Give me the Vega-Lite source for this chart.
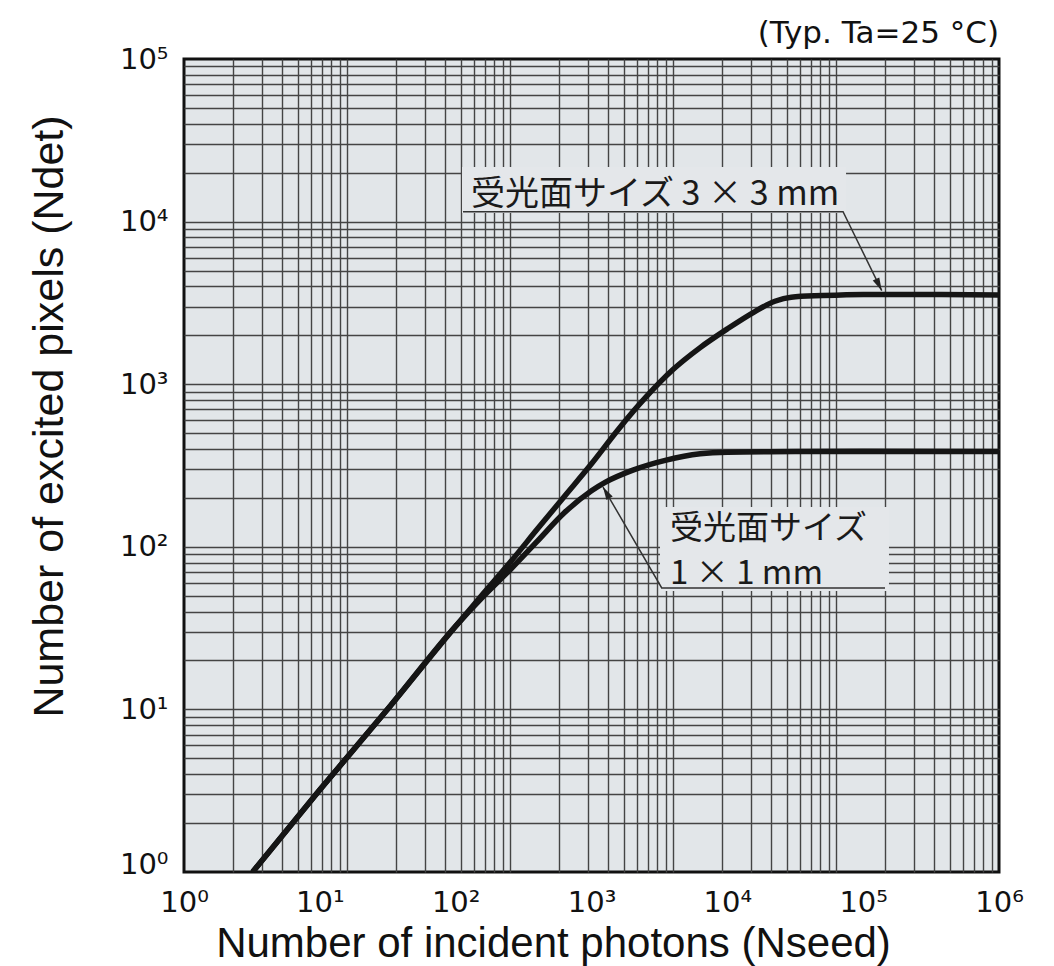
{
  "$schema": "https://vega.github.io/schema/vega-lite/v6.json",
  "width": 815,
  "height": 813,
  "autosize": {"type": "none"},
  "padding": {"left": 184, "top": 59, "right": 55, "bottom": 94},
  "background": "white",
  "view": {"fill": "#e2e6e9", "stroke": "#111111", "strokeWidth": 3},
  "title": {
    "text": "(Typ. Ta=25 °C)",
    "anchor": "end",
    "frame": "group",
    "font": "DejaVu Sans",
    "fontSize": 31,
    "fontWeight": "normal",
    "color": "#111111",
    "offset": -5
  },
  "datasets": {
    "curves": [
      {"series": "3x3", "x": 3.2, "y": 1},
      {"series": "3x3", "x": 10, "y": 3.2},
      {"series": "3x3", "x": 33, "y": 10.5},
      {"series": "3x3", "x": 100, "y": 32.5},
      {"series": "3x3", "x": 158, "y": 51},
      {"series": "3x3", "x": 251, "y": 80},
      {"series": "3x3", "x": 398, "y": 128},
      {"series": "3x3", "x": 631, "y": 204},
      {"series": "3x3", "x": 1000, "y": 324},
      {"series": "3x3", "x": 1585, "y": 531},
      {"series": "3x3", "x": 2512, "y": 832},
      {"series": "3x3", "x": 3981, "y": 1230},
      {"series": "3x3", "x": 6310, "y": 1679},
      {"series": "3x3", "x": 10000, "y": 2188},
      {"series": "3x3", "x": 15850, "y": 2786},
      {"series": "3x3", "x": 22390, "y": 3236},
      {"series": "3x3", "x": 29510, "y": 3428},
      {"series": "3x3", "x": 50120, "y": 3508},
      {"series": "3x3", "x": 100000, "y": 3565},
      {"series": "3x3", "x": 316200, "y": 3565},
      {"series": "3x3", "x": 1000000, "y": 3540},
      {"series": "1x1", "x": 3.2, "y": 1},
      {"series": "1x1", "x": 10, "y": 3.2},
      {"series": "1x1", "x": 33, "y": 10.5},
      {"series": "1x1", "x": 100, "y": 32.5},
      {"series": "1x1", "x": 158, "y": 49},
      {"series": "1x1", "x": 251, "y": 72},
      {"series": "1x1", "x": 398, "y": 108},
      {"series": "1x1", "x": 631, "y": 162},
      {"series": "1x1", "x": 1000, "y": 221},
      {"series": "1x1", "x": 1259, "y": 249},
      {"series": "1x1", "x": 1995, "y": 295},
      {"series": "1x1", "x": 3548, "y": 341},
      {"series": "1x1", "x": 6310, "y": 373},
      {"series": "1x1", "x": 10000, "y": 382},
      {"series": "1x1", "x": 31620, "y": 386},
      {"series": "1x1", "x": 100000, "y": 387},
      {"series": "1x1", "x": 1000000, "y": 385}
    ],
    "boxes": [
      {"id": "3x3", "x1": 111.4, "x2": 74800, "y1": 11290, "y2": 21680},
      {"id": "1x1", "x1": 3194, "x2": 154900, "y1": 53.5, "y2": 176}
    ],
    "leaders": [
      {"id": "3x3", "order": 1, "x": 113.2, "y": 11510},
      {"id": "3x3", "order": 2, "x": 71100, "y": 11510},
      {"id": "3x3", "order": 3, "x": 137000, "y": 3760},
      {"id": "1x1", "order": 1, "x": 1215, "y": 233},
      {"id": "1x1", "order": 2, "x": 3288, "y": 55.8},
      {"id": "1x1", "order": 3, "x": 144800, "y": 55.8}
    ],
    "arrows": [
      {"id": "3x3", "x": 137000, "y": 3760},
      {"id": "1x1", "x": 1215, "y": 233}
    ],
    "labels": [
      {"x": 129.7, "y": 12650, "text": "受光面サイズ 3 × 3 mm", "grp": "3x3"},
      {"x": 3786, "y": 112, "text": "受光面サイズ", "grp": "1x1"},
      {"x": 3786, "y": 59, "text": "1 × 1 mm", "grp": "1x1"}
    ]
  },
  "layer": [
    {
      "data": {"name": "boxes"},
      "mark": {"type": "rect", "fill": "#e4e7ea", "strokeWidth": 0},
      "encoding": {
        "x": {
          "field": "x1", "type": "quantitative",
          "scale": {"type": "log", "domain": [1, 1000000], "nice": false},
          "axis": {
            "orient": "top",
            "values": [2.297, 3.737, 5.278, 6.899, 8.587, 10.33, 12.13, 13.97, 15.85, 36.41, 59.23, 83.65, 109.3, 136.1, 163.7, 192.2, 221.4, 251.2, 577.1, 938.7, 1326, 1733, 2157, 2595, 3046, 3508, 3981, 9146, 14878, 21012, 27464, 34186, 41128, 48275, 55600, 63096, 144956, 235800, 333015, 435268, 541801, 651843, 765099, 881195],
            "grid": true, "gridColor": "#444444", "gridWidth": 1.4,
            "labels": false, "ticks": false, "domain": false, "title": null
          }
        },
        "x2": {"field": "x2"},
        "y": {
          "field": "y1", "type": "quantitative",
          "scale": {"type": "log", "domain": [1, 100000], "nice": false},
          "axis": {
            "orient": "left",
            "values": [1, 2, 3, 4, 5, 6, 7, 8, 9, 10, 20, 30, 40, 50, 60, 70, 80, 90, 100, 200, 300, 400, 500, 600, 700, 800, 900, 1000, 2000, 3000, 4000, 5000, 6000, 7000, 8000, 9000, 10000, 20000, 30000, 40000, 50000, 60000, 70000, 80000, 90000, 100000],
            "grid": true, "gridColor": "#444444", "gridWidth": 1.4,
            "gridOpacity": {"condition": {"test": "datum.value == 1 || datum.value == 100000", "value": 0}, "value": 1},
            "ticks": false, "domain": false,
            "labelExpr": "indexof([1,10,100,1000,10000,100000], datum.value) >= 0 ? '10' + ['⁰','¹','²','³','⁴','⁵'][round(log(datum.value)/LN10)] : ''",
            "labelFont": "DejaVu Sans", "labelFontSize": 29, "labelColor": "#111111",
            "labelPadding": 16, "labelBaseline": "middle", "labelFlush": false,
            "labelOverlap": false, "labelBound": false,
            "labelOffset": {"condition": {"test": "datum.value == 1", "value": -8}, "value": 0},
            "title": "Number of excited pixels (Ndet)",
            "titleFont": "Liberation Sans", "titleFontSize": 43, "titleFontWeight": "normal",
            "titleColor": "#111111", "titleAngle": -90, "titleBaseline": "alphabetic",
            "titleAlign": "center", "titleX": -122, "titleY": 357
          }
        },
        "y2": {"field": "y2"}
      }
    },
    {
      "data": {"name": "curves"},
      "mark": {"type": "line", "color": "#151515", "strokeWidth": 5.5, "interpolate": "monotone", "clip": true},
      "encoding": {
        "x": {
          "field": "x", "type": "quantitative",
          "scale": {"type": "log", "domain": [1, 1000000], "nice": false},
          "axis": {
            "orient": "bottom",
            "values": [1, 10, 100, 1000, 10000, 100000, 1000000],
            "grid": false, "ticks": false, "domain": false,
            "labelExpr": "'10' + ['⁰','¹','²','³','⁴','⁵','⁶'][round(log(datum.value)/LN10)]",
            "labelFont": "DejaVu Sans", "labelFontSize": 29, "labelColor": "#111111",
            "labelPadding": 16, "labelFlush": false, "labelOverlap": false, "labelBound": false,
            "title": "Number of incident photons (Nseed)",
            "titleFont": "Liberation Sans", "titleFontSize": 42, "titleFontWeight": "normal",
            "titleColor": "#111111", "titleBaseline": "alphabetic", "titleAlign": "center",
            "titleX": 369, "titleY": 84
          }
        },
        "y": {
          "field": "y", "type": "quantitative",
          "scale": {"type": "log", "domain": [1, 100000], "nice": false},
          "axis": null
        },
        "detail": {"field": "series"}
      }
    },
    {
      "data": {"name": "leaders"},
      "mark": {"type": "line", "color": "#333333", "strokeWidth": 1.5},
      "encoding": {
        "x": {"field": "x", "type": "quantitative", "scale": {"type": "log", "domain": [1, 1000000], "nice": false}, "axis": null},
        "y": {"field": "y", "type": "quantitative", "scale": {"type": "log", "domain": [1, 100000], "nice": false}, "axis": null},
        "order": {"field": "order"},
        "detail": {"field": "id"}
      }
    },
    {
      "data": {"name": "arrows"},
      "transform": [{"filter": "datum.id == '3x3'"}],
      "mark": {"type": "point", "shape": "M0,0L-0.28,1L0.28,1Z", "filled": true, "color": "#222222", "opacity": 1, "size": 676, "angle": 153.8, "strokeWidth": 0},
      "encoding": {
        "x": {"field": "x", "type": "quantitative", "scale": {"type": "log", "domain": [1, 1000000], "nice": false}, "axis": null},
        "y": {"field": "y", "type": "quantitative", "scale": {"type": "log", "domain": [1, 100000], "nice": false}, "axis": null}
      }
    },
    {
      "data": {"name": "arrows"},
      "transform": [{"filter": "datum.id == '1x1'"}],
      "mark": {"type": "point", "shape": "M0,0L-0.28,1L0.28,1Z", "filled": true, "color": "#222222", "opacity": 1, "size": 676, "angle": -30.4, "strokeWidth": 0},
      "encoding": {
        "x": {"field": "x", "type": "quantitative", "scale": {"type": "log", "domain": [1, 1000000], "nice": false}, "axis": null},
        "y": {"field": "y", "type": "quantitative", "scale": {"type": "log", "domain": [1, 100000], "nice": false}, "axis": null}
      }
    },
    {
      "data": {"name": "labels"},
      "transform": [{"filter": "datum.grp == '3x3'"}],
      "mark": {"type": "text", "font": "Noto Sans CJK JP", "fontSize": 34, "align": "left", "baseline": "alphabetic", "color": "#1a1a1a"},
      "encoding": {
        "x": {"field": "x", "type": "quantitative", "scale": {"type": "log", "domain": [1, 1000000], "nice": false}, "axis": null},
        "y": {"field": "y", "type": "quantitative", "scale": {"type": "log", "domain": [1, 100000], "nice": false}, "axis": null},
        "text": {"field": "text"}
      }
    },
    {
      "data": {"name": "labels"},
      "transform": [{"filter": "datum.grp == '1x1'"}],
      "mark": {"type": "text", "font": "Noto Sans CJK JP", "fontSize": 33, "align": "left", "baseline": "alphabetic", "color": "#1a1a1a"},
      "encoding": {
        "x": {"field": "x", "type": "quantitative", "scale": {"type": "log", "domain": [1, 1000000], "nice": false}, "axis": null},
        "y": {"field": "y", "type": "quantitative", "scale": {"type": "log", "domain": [1, 100000], "nice": false}, "axis": null},
        "text": {"field": "text"}
      }
    }
  ],
  "resolve": {"axis": {"x": "independent", "y": "independent"}}
}
